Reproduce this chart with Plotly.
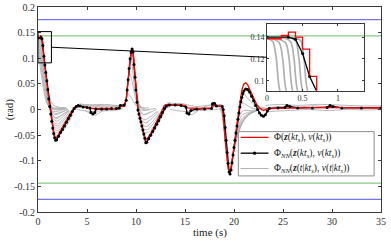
import plotly.graph_objects as go

# ---------------- data ----------------
red_t = [0.0, 0.1, 0.2, 0.3, 0.4, 0.5, 0.6, 0.7, 0.8, 0.9, 1.0, 1.1, 1.2, 1.3, 1.4, 1.5, 1.6, 1.7, 1.8, 1.9,
         2.1, 2.4, 2.7, 3.0, 3.3, 3.6, 3.9, 4.1, 4.4, 5.0, 5.5, 6.5, 7.5, 8.2, 8.4, 8.8,
         9.0, 9.2, 9.4, 9.6, 9.7, 9.8, 9.9, 10.0, 10.1, 10.2, 10.4, 10.6, 10.8, 10.95, 11.1, 11.4, 11.7,
         12.0, 12.3, 12.6, 12.9, 13.2, 14.0, 15.0, 15.2, 16.5, 17.8, 17.9, 18.8,
         18.9, 19.0, 19.1, 19.2, 19.3, 19.4, 19.5, 19.6, 19.7, 19.8, 19.9, 20.0, 20.2, 20.4, 20.6, 20.8,
         21.0, 21.2, 21.4, 21.7, 22.0, 22.3, 22.6, 23.0, 23.5, 25.0, 27.0, 29.0, 31.0, 33.0, 35.0]
red_y = [0.1385, 0.1385, 0.1415, 0.1445, 0.1400, 0.1290, 0.1040, 0.0850, 0.0700, 0.0550, 0.0380, 0.0200,
         0.0050, -0.0100, -0.0230, -0.0350, -0.0450, -0.0520, -0.0560, -0.0550,
         -0.0480, -0.0380, -0.0280, -0.0180, -0.0080, 0.0010, 0.0070, 0.0080, 0.0060, 0.0040, 0.0020,
         0.0020, 0.0020, 0.0020, 0.0060, 0.0060,
         0.0200, 0.0600, 0.1000, 0.1200, 0.1150, 0.0900, 0.0650, 0.0400, 0.0150, 0.0000, -0.0150, -0.0300,
         -0.0450, -0.0600, -0.0590, -0.0500, -0.0400,
         -0.0280, -0.0150, -0.0020, 0.0080, 0.0100, 0.0090, 0.0080, 0.0030, 0.0020, 0.0030, 0.0080, 0.0060,
         -0.0100, -0.0350, -0.0600, -0.0820, -0.1000, -0.1150, -0.1220, -0.1240, -0.1170, -0.1040, -0.0880,
         -0.0720, -0.0430, -0.0150, 0.0150, 0.0380,
         0.0500, 0.0520, 0.0480, 0.0360, 0.0220, 0.0100, 0.0030, -0.0020, 0.0020, 0.0030, 0.0030, 0.0040,
         0.0030, 0.0030, 0.0030]

nn_t = [0.0, 0.3, 0.4, 0.5, 0.6, 0.7, 0.8, 0.9, 1.0, 1.1, 1.2, 1.3, 1.4, 1.5, 1.6, 1.7, 1.8, 1.9,
        2.1, 2.3, 2.5, 2.7, 2.9, 3.1, 3.3, 3.5, 3.7, 3.9, 4.1, 4.3, 4.6, 5.0, 5.3, 5.4, 5.6, 5.8, 5.9,
        6.5, 7.0, 7.5, 8.0, 8.3, 8.4, 8.8,
        9.0, 9.1, 9.2, 9.3, 9.4, 9.5, 9.6, 9.7, 9.8, 9.9, 10.0, 10.1, 10.2, 10.3, 10.4, 10.5, 10.6, 10.7,
        10.8, 10.9, 11.0, 11.1, 11.3, 11.5, 11.7, 11.9, 12.1, 12.3, 12.5, 12.7, 12.9, 13.1, 13.4, 14.0,
        14.6, 15.1, 15.2, 15.4, 15.6, 16.2, 17.0, 17.7, 17.8, 18.0, 18.2, 18.8,
        18.9, 19.0, 19.1, 19.2, 19.3, 19.4, 19.5, 19.6, 19.7, 19.8, 19.9, 20.0, 20.1, 20.2, 20.3, 20.4,
        20.5, 20.6, 20.7, 20.8, 20.9, 21.0, 21.2, 21.4, 21.6, 21.8, 22.0, 22.2, 22.4, 22.6, 22.8, 23.0,
        23.2, 23.4, 23.6, 24.5, 25.2, 25.4, 25.7, 26.5, 28.0, 29.5, 29.8, 30.1, 31.0, 33.0, 35.0]
nn_y = [0.1400, 0.1400, 0.1380, 0.1250, 0.1040, 0.0870, 0.0720, 0.0560, 0.0390, 0.0210, 0.0060, -0.0090,
        -0.0230, -0.0360, -0.0470, -0.0550, -0.0600, -0.0590,
        -0.0520, -0.0450, -0.0390, -0.0320, -0.0250, -0.0180, -0.0110, -0.0040, 0.0020, 0.0060, 0.0080,
        0.0070, 0.0050, 0.0040, 0.0030, -0.0060, -0.0090, -0.0060, 0.0010,
        0.0010, 0.0010, 0.0020, 0.0020, 0.0030, 0.0080, 0.0090,
        0.0180, 0.0380, 0.0580, 0.0800, 0.0990, 0.1120, 0.1180, 0.1120, 0.0880, 0.0630, 0.0380, 0.0140,
        -0.0010, -0.0090, -0.0170, -0.0240, -0.0320, -0.0400,
        -0.0480, -0.0560, -0.0650, -0.0640, -0.0570, -0.0500, -0.0430, -0.0360, -0.0290, -0.0220, -0.0140,
        -0.0060, 0.0020, 0.0070, 0.0090, 0.0090,
        0.0080, 0.0050, -0.0070, -0.0090, -0.0020, 0.0010, 0.0010, 0.0020, 0.0110, 0.0120, 0.0070, 0.0060,
        0.0000, -0.0120, -0.0350, -0.0600, -0.0840, -0.1050, -0.1220, -0.1260, -0.1180, -0.1040, -0.0890,
        -0.0740, -0.0600, -0.0460, -0.0320, -0.0190,
        -0.0070, 0.0050, 0.0150, 0.0240, 0.0310, 0.0360, 0.0400, 0.0390, 0.0340, 0.0260, 0.0170, 0.0080,
        0.0000, -0.0070, -0.0110, -0.0130,
        -0.0100, -0.0030, 0.0020, 0.0030, 0.0040, 0.0080, 0.0060, 0.0030, 0.0030, 0.0040, 0.0080, 0.0060,
        0.0030, 0.0030, 0.0030]

# predicted trajectories Phi_NN(z(t|kt_s), v(t|kt_s)), each a list of (t, value)
gray_paths = [
    [(0.00, 0.139), (0.08, 0.136), (0.13, 0.120), (0.18, 0.091), (0.40, 0.060), (0.65, 0.030), (0.90, 0.012), (1.30, 0.004), (2.00, 0.003), (2.60, 0.003)],
    [(0.05, 0.139), (0.17, 0.135), (0.22, 0.120), (0.27, 0.091), (0.50, 0.058), (0.75, 0.028), (1.00, 0.010), (1.40, 0.002), (2.10, 0.002), (2.70, 0.003)],
    [(0.10, 0.139), (0.26, 0.135), (0.31, 0.120), (0.36, 0.091), (0.60, 0.055), (0.85, 0.025), (1.10, 0.006), (1.50, 0.000), (2.20, 0.001), (2.80, 0.003)],
    [(0.20, 0.140), (0.33, 0.136), (0.38, 0.120), (0.43, 0.091), (0.70, 0.052), (0.95, 0.022), (1.20, 0.003), (1.60, -0.004), (2.30, -0.002), (2.90, 0.002)],
    [(0.30, 0.140), (0.40, 0.137), (0.45, 0.120), (0.50, 0.091), (0.78, 0.050), (1.02, 0.018), (1.30, -0.002), (1.70, -0.010), (2.40, -0.006), (3.00, 0.000)],
    [(0.35, 0.140), (0.47, 0.137), (0.52, 0.120), (0.57, 0.091), (0.85, 0.048), (1.10, 0.013), (1.40, -0.008), (1.80, -0.016), (2.50, -0.010), (3.10, -0.002)],
    [(0.9, 0.055), (1.2, 0.022), (1.6, 0.008), (2.3, 0.004), (2.9, 0.003)],
    [(1.0, 0.038), (1.3, 0.010), (1.7, 0.000), (2.4, 0.000), (3.0, 0.002)],
    [(1.1, 0.020), (1.4, -0.002), (1.8, -0.008), (2.5, -0.004), (3.1, 0.000)],
    [(1.2, 0.005), (1.5, -0.012), (1.9, -0.018), (2.5, -0.010), (3.2, -0.002)],
    [(1.25, -0.002), (1.55, -0.018), (1.95, -0.023), (2.6, -0.013), (3.25, -0.003)],
    [(1.3, -0.010), (1.6, -0.025), (2.0, -0.028), (2.7, -0.016), (3.3, -0.005)],
    [(1.35, -0.016), (1.65, -0.030), (2.05, -0.032), (2.75, -0.019), (3.35, -0.006)],
    [(1.4, -0.023), (1.7, -0.035), (2.1, -0.036), (2.8, -0.022), (3.4, -0.007)],
    [(1.45, -0.029), (1.75, -0.040), (2.15, -0.040), (2.85, -0.024), (3.45, -0.008)],
    [(1.5, -0.035), (1.8, -0.045), (2.2, -0.043), (2.9, -0.026), (3.5, -0.008)],
    [(1.6, -0.045), (1.9, -0.052), (2.3, -0.047), (3.0, -0.029), (3.6, -0.008)],
    [(1.9, -0.055), (2.3, -0.044), (2.8, -0.027), (3.4, -0.008), (3.9, 0.004)],
    [(2.2, -0.046), (2.6, -0.032), (3.1, -0.015), (3.6, -0.001), (4.2, 0.005)],
    [(2.6, -0.032), (3.0, -0.018), (3.5, -0.004), (4.0, 0.004), (4.6, 0.005)],
    [(3.5, 0.004), (5.0, 0.007), (6.5, 0.005), (8.0, 0.006), (9.0, 0.007)],
    [(4.0, 0.000), (5.5, -0.004), (7.0, -0.001), (8.5, 0.001)],
    [(4.5, 0.009), (6.0, 0.008), (7.5, 0.007), (9.0, 0.009)],
    [(4.2, 0.011), (5.2, 0.009), (6.8, 0.010), (8.2, 0.008), (8.9, 0.011)],
    [(4.8, -0.002), (5.8, -0.011), (6.6, -0.003), (7.8, -0.002), (8.7, 0.003)],
    [(9.4, 0.104), (9.5, 0.110), (9.6, 0.090), (9.75, 0.060), (9.95, 0.030), (10.2, 0.012), (10.6, 0.004), (11.3, 0.003)],
    [(9.5, 0.118), (9.6, 0.118), (9.7, 0.095), (9.85, 0.062), (10.05, 0.030), (10.3, 0.008), (10.7, -0.002), (11.4, 0.000)],
    [(9.6, 0.120), (9.7, 0.110), (9.8, 0.085), (9.95, 0.055), (10.15, 0.022), (10.4, 0.000), (10.8, -0.010), (11.5, -0.004)],
    [(9.0, 0.020), (9.2, 0.030), (9.5, 0.024), (9.9, 0.010), (10.5, 0.003)],
    [(9.2, 0.060), (9.35, 0.070), (9.6, 0.055), (9.9, 0.025), (10.3, 0.006), (10.9, 0.002)],
    [(10.0, 0.040), (10.3, 0.012), (10.7, 0.000), (11.3, 0.000), (12.0, 0.002)],
    [(10.1, 0.015), (10.4, -0.004), (10.8, -0.010), (11.4, -0.006), (12.1, 0.000)],
    [(10.2, 0.000), (10.5, -0.015), (10.9, -0.020), (11.6, -0.012), (12.2, -0.003)],
    [(10.3, -0.008), (10.6, -0.022), (11.0, -0.026), (11.7, -0.016), (12.3, -0.004)],
    [(10.4, -0.015), (10.7, -0.030), (11.1, -0.033), (11.8, -0.021), (12.4, -0.006)],
    [(10.5, -0.023), (10.8, -0.038), (11.2, -0.039), (11.9, -0.024), (12.5, -0.007)],
    [(10.6, -0.030), (10.9, -0.045), (11.3, -0.044), (12.0, -0.027), (12.6, -0.008)],
    [(10.8, -0.045), (11.1, -0.057), (11.5, -0.052), (12.2, -0.031), (12.8, -0.008)],
    [(11.1, -0.059), (11.5, -0.047), (12.0, -0.030), (12.6, -0.010), (13.1, 0.004)],
    [(11.5, -0.048), (11.9, -0.034), (12.4, -0.016), (12.9, 0.000), (13.5, 0.006)],
    [(12.9, 0.006), (14.5, 0.012), (16.0, 0.006), (17.5, 0.008), (18.8, 0.010)],
    [(13.5, 0.000), (15.0, -0.004), (16.5, -0.002), (18.0, 0.000), (18.8, 0.002)],
    [(13.2, 0.013), (14.8, 0.008), (15.6, -0.010), (16.8, 0.004), (18.2, 0.012)],
    [(18.5, 0.004), (18.75, -0.008), (18.95, -0.035), (19.15, -0.070), (19.3, -0.095)],
    [(18.6, 0.004), (18.8, -0.005), (19.0, -0.040), (19.2, -0.080), (19.35, -0.110)],
    [(18.7, 0.004), (18.9, -0.010), (19.1, -0.050), (19.25, -0.085), (19.4, -0.115)],
    [(19.5, -0.122), (19.8, -0.095), (20.2, -0.060), (20.7, -0.030), (21.3, -0.012), (22.0, -0.004)],
    [(19.7, -0.110), (20.0, -0.080), (20.4, -0.050), (20.9, -0.025), (21.5, -0.010), (22.2, -0.003)],
    [(19.8, -0.098), (20.1, -0.068), (20.5, -0.041), (21.0, -0.021), (21.6, -0.009), (22.3, -0.002)],
    [(19.9, -0.085), (20.2, -0.055), (20.6, -0.032), (21.1, -0.018), (21.7, -0.008), (22.4, -0.002)],
    [(20.0, -0.072), (20.3, -0.044), (20.7, -0.025), (21.2, -0.014), (21.8, -0.006), (22.5, -0.001)],
    [(20.1, -0.060), (20.4, -0.033), (20.8, -0.018), (21.3, -0.010), (21.9, -0.005), (22.6, 0.000)],
    [(20.2, -0.045), (20.5, -0.021), (20.9, -0.010), (21.4, -0.006), (22.0, -0.003), (22.7, 0.000)],
    [(20.3, -0.030), (20.6, -0.010), (21.0, -0.002), (21.5, -0.002), (22.1, -0.001), (22.8, 0.001)],
    [(20.5, 0.000), (20.8, 0.012), (21.2, 0.010), (21.7, 0.004), (22.3, 0.001), (23.0, 0.002)],
    [(20.7, 0.025), (21.0, 0.030), (21.4, 0.022), (21.9, 0.012), (22.5, 0.004), (23.2, 0.002)],
    [(20.9, 0.040), (21.2, 0.040), (21.6, 0.030), (22.1, 0.016), (22.7, 0.005), (23.4, 0.002)],
    [(22.8, 0.000), (24.5, 0.006), (26.0, 0.004), (28.0, 0.007), (30.0, 0.005), (32.0, 0.004), (35.0, 0.004)],
    [(23.5, -0.004), (25.5, -0.002), (27.5, 0.000), (29.5, -0.002), (31.5, 0.000), (33.5, -0.001), (35.0, 0.000)],
    [(23.2, 0.008), (24.8, 0.010), (26.5, 0.008), (28.5, 0.010), (30.5, 0.009), (33.0, 0.007), (35.0, 0.007)],
]

blue_limit = 0.1755
green_limit = 0.1435

x_ticks = [0, 5, 10, 15, 20, 25, 30, 35]
y_ticks = [0.2, 0.15, 0.1, 0.05, 0, -0.05, -0.1, -0.15, -0.2]
y_tick_text = ["0.2", "0.15", "0.1", "0.05", "0", "-0.05", "-0.1", "-0.15", "-0.2"]
inset_x_ticks = [0, 0.5, 1]
inset_x_text = ["0", "0.5", "1"]
inset_y_ticks = [0.1, 0.12, 0.14]
inset_y_text = ["0.1", "0.12", "0.14"]
inset_x_range = [0, 1.37]
inset_y_range = [0.091, 0.152]

legend_names = [
    "Φ(<b><i>z</i></b>(<i>kt<sub>s</sub></i>), <i>v</i>(<i>kt<sub>s</sub></i>))",
    "Φ<sub><i>NN</i></sub>(<b><i>z</i></b>(<i>kt<sub>s</sub></i>), <i>v</i>(<i>kt<sub>s</sub></i>))",
    "Φ<sub><i>NN</i></sub>(<b><i>z</i></b>(<i>t</i>|<i>kt<sub>s</sub></i>), <i>v</i>(<i>t</i>|<i>kt<sub>s</sub></i>))",
]

# ---------------- figure ----------------
FONT = "Liberation Serif"
TXT = "#333333"
RED = "#ff0000"
GRAY = "#b0b0b0"
gx, gy = [], []
for path in gray_paths:
    for t, v in path:
        gx.append(t)
        gy.append(v)
    gx.append(None)
    gy.append(None)

fig = go.Figure()

x_lo, x_hi = 0, 35
for lim, col in [(blue_limit, "#7373f5"), (green_limit, "#88c988")]:
    fig.add_trace(go.Scatter(x=[x_lo, x_hi, None, x_lo, x_hi], y=[lim, lim, None, -lim, -lim],
                             mode="lines", line=dict(color=col, width=1.2), showlegend=False,
                             hoverinfo="skip"))

for xa, ya, main in [("x", "y", True), ("x2", "y2", False)]:
    fig.add_trace(go.Scatter(x=gx, y=gy, mode="lines", xaxis=xa, yaxis=ya,
                             line=dict(color=GRAY, width=0.9 if main else 1.7, shape="spline",
                                       smoothing=0.8),
                             name=legend_names[2], showlegend=False, hoverinfo="skip"))
    fig.add_trace(go.Scatter(x=nn_t, y=nn_y, mode="lines", xaxis=xa, yaxis=ya,
                             line=dict(color="black", width=1.3),
                             name=legend_names[1], showlegend=False, hoverinfo="skip"))
    fig.add_trace(go.Scatter(x=red_t, y=red_y, mode="lines", xaxis=xa, yaxis=ya,
                             line=dict(color=RED, width=1.3, shape="linear" if main else "hv"),
                             name=legend_names[0], showlegend=False, hoverinfo="skip"))
    fig.add_trace(go.Scatter(x=nn_t, y=nn_y, mode="markers", xaxis=xa, yaxis=ya,
                             marker=dict(color="black", size=3), showlegend=False,
                             hoverinfo="skip"))

inset_dom_x = [0.668, 0.951]
inset_dom_y = [0.592, 0.917]

axis_common = dict(showline=True, linecolor="#3a3a3a", linewidth=1, mirror="ticks", ticks="inside",
                   ticklen=3, tickcolor="#3a3a3a", showgrid=False, zeroline=False, automargin=False,
                   ticklabeloverflow="allow",
                   tickfont=dict(family=FONT, size=10, color=TXT))
inset_axis = {**axis_common, "tickfont": dict(family=FONT, size=8, color=TXT), "ticklen": 2}

fig.update_layout(
    template="none",
    width=391, height=245,
    margin=dict(l=38, r=10, t=7, b=33, autoexpand=False),
    paper_bgcolor="white", plot_bgcolor="rgba(0,0,0,0)",
    xaxis=dict(range=[x_lo, x_hi], tickvals=x_ticks, domain=[0, 1], **axis_common),
    yaxis=dict(range=[-0.2, 0.2], tickvals=y_ticks, ticktext=y_tick_text, domain=[0, 1], **axis_common),
    xaxis2=dict(range=inset_x_range, tickvals=inset_x_ticks, ticktext=inset_x_text,
                domain=inset_dom_x, anchor="y2", **inset_axis),
    yaxis2=dict(range=inset_y_range, tickvals=inset_y_ticks, ticktext=inset_y_text,
                domain=inset_dom_y, anchor="x2", **inset_axis),
    showlegend=False,
    font=dict(family=FONT, color=TXT),
)

# zoom rectangle and its connector to the inset
ymid_data = (inset_y_range[0] + inset_y_range[1]) / 2
fig.add_shape(type="rect", xref="x", yref="y", x0=inset_x_range[0], x1=inset_x_range[1],
              y0=inset_y_range[0], y1=inset_y_range[1], line=dict(color="black", width=1))
fig.add_shape(type="line", xref="paper", yref="paper",
              x0=(inset_x_range[1] - x_lo) / (x_hi - x_lo), y0=(ymid_data + 0.2) / 0.4,
              x1=inset_dom_x[0], y1=(inset_dom_y[0] + inset_dom_y[1]) / 2,
              line=dict(color="black", width=1))

# legend box (drawn by hand to match the reference layout)
lg_x0, lg_x1, lg_y0, lg_y1 = 0.584, 0.980, 0.176, 0.392
fig.add_shape(type="rect", xref="paper", yref="paper", x0=lg_x0, x1=lg_x1, y0=lg_y0, y1=lg_y1,
              fillcolor="white", line=dict(color="#8c8c8c", width=1), layer="above")
rows = [0.364, 0.287, 0.212]
samp_x0, samp_x1, text_x = 0.591, 0.672, 0.681
styles = [(RED, 1.3), ("black", 1.3), (GRAY, 1.0)]
for (col, w), yr, name in zip(styles, rows, legend_names):
    fig.add_shape(type="line", xref="paper", yref="paper", x0=samp_x0, x1=samp_x1, y0=yr, y1=yr,
                  line=dict(color=col, width=w), layer="above")
    fig.add_annotation(text=name, xref="paper", yref="paper", x=text_x, y=yr, xanchor="left",
                       yanchor="middle", showarrow=False, font=dict(family=FONT, size=9.5, color="#222"))
fig.add_shape(type="circle", xref="paper", yref="paper", xsizemode="pixel", ysizemode="pixel",
              xanchor=(samp_x0 + samp_x1) / 2, yanchor=rows[1], x0=-1.7, x1=1.7, y0=-1.7, y1=1.7,
              fillcolor="black", line=dict(color="black", width=0), layer="above")

fig.add_annotation(text="time (s)", xref="paper", yref="paper", x=0.5, y=-0.102,
                   showarrow=False, font=dict(family=FONT, size=11, color="#222"), yanchor="middle")
fig.add_annotation(text="(rad)", xref="paper", yref="paper", x=-0.082, y=0.5, textangle=-90,
                   showarrow=False, font=dict(family=FONT, size=11, color="#222"), xanchor="center")

# the page's default 8px body margin would shift the whole figure; remove it
fig.write_html("out.html", config={"displayModeBar": False},
               post_script="document.body.style.margin='0px';document.body.style.padding='0px';")
